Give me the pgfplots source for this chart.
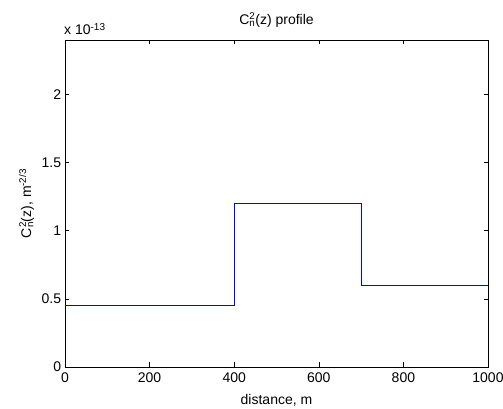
\documentclass[border=0pt]{standalone}
\usepackage{fontspec}
\setmainfont{Liberation Sans}
\usepackage{pgfplots}
\pgfplotsset{compat=1.18}
\definecolor{matblue}{RGB}{0,0,255}
\newcommand{\Cn}{C\rlap{\textsuperscript{2}}\textsubscript{n}}
\begin{document}
\fontsize{14}{16}\selectfont
\begin{tikzpicture}
\path[use as bounding box] (-65pt,-42pt) rectangle (438pt,367pt);
\begin{axis}[
    scale only axis,
    width=423pt, height=327pt,
    xmin=0, xmax=1000, ymin=0, ymax=2.4,
    xtick={0,200,...,1000},
    xticklabels={0,200,400,600,800,1000},
    ytick={0,0.5,1,1.5,2},
    yticklabels={0,0.5,1,1.5,2},
    tick align=inside,
    major tick length=4.5pt,
    axis line style={line width=0.9pt},
    every tick/.style={black, line width=0.6pt},
    tick label style={font=\fontsize{14}{16}\selectfont},
    xticklabel style={yshift=-1pt},
    yticklabel style={xshift=1pt},
    label style={font=\fontsize{14}{16}\selectfont},
    scaled ticks=false,
    xlabel={distance, m},
    ylabel={\Cn(z), m\textsuperscript{-2/3}},
    xlabel style={yshift=-2pt},
    ylabel style={yshift=-2pt},
    title={\Cn(z) profile},
    title style={font=\fontsize{14}{16}\selectfont, yshift=2pt},
    clip=false,
]
\addplot[matblue, line width=1.2pt] coordinates {
    (0,0.45) (400,0.45) (400,1.2) (700,1.2) (700,0.6) (1000,0.6)
};
\node[anchor=south west, inner sep=0pt] at (rel axis cs:0,1) [yshift=5pt, xshift=-1pt] {x 10\raisebox{0.55ex}{\fontsize{10}{12}\selectfont -13}};
\end{axis}
\end{tikzpicture}
\end{document}
